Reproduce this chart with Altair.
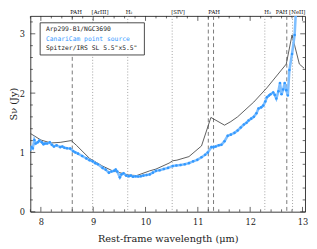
import altair as alt
import pandas as pd

# ---- data ----
spitzer_wl = [7.80, 8.00, 8.19, 8.37, 8.58, 8.68, 8.93, 9.18, 9.37, 9.68, 9.83, 10.08, 10.20,
              10.45, 10.52, 10.60, 10.83, 11.07, 11.25, 11.51, 11.63, 11.76, 12.07, 12.32,
              12.69, 12.80, 12.94, 13.03]
spitzer_flux = [1.32, 1.21, 1.16, 1.17, 1.20, 1.12, 0.90, 0.77, 0.69, 0.62, 0.61, 0.69, 0.72,
                0.82, 0.86, 0.87, 0.93, 1.11, 1.59, 1.46, 1.52, 1.60, 1.85, 2.09,
                2.49, 2.98, 2.49, 2.42]

canari_wl = [7.795, 7.82, 7.845, 7.875, 7.90, 7.94, 7.97, 8.02, 8.05, 8.08, 8.12, 8.17, 8.21,
             8.25, 8.30, 8.37, 8.41, 8.45, 8.50, 8.56, 8.62, 8.66, 8.71, 8.79, 8.87, 8.93,
             8.99, 9.04, 9.09, 9.18, 9.24, 9.30, 9.35, 9.40, 9.43, 9.46, 9.51, 9.54, 9.58,
             9.63, 9.68, 9.72, 9.76, 9.81, 9.86, 9.91, 9.96, 10.02, 10.08, 10.14, 10.20,
             10.27, 10.35, 10.43, 10.52, 10.59, 10.67, 10.75, 10.83, 10.91, 10.99, 11.07,
             11.14, 11.19, 11.26, 11.30, 11.34, 11.40, 11.45, 11.51, 11.57, 11.63, 11.70,
             11.76, 11.82, 11.88, 11.93, 11.97, 12.02, 12.07, 12.12, 12.16, 12.21, 12.25,
             12.29, 12.32, 12.36, 12.39, 12.44, 12.47, 12.50, 12.54, 12.57, 12.60, 12.63,
             12.66, 12.69, 12.72, 12.75, 12.80, 12.85, 12.87, 12.89]
canari_flux = [1.04, 1.09, 1.07, 1.21, 1.15, 1.17, 1.20, 1.17, 1.14, 1.15, 1.15, 1.17, 1.13,
               1.10, 1.12, 1.09, 1.10, 1.08, 1.07, 1.065, 1.02, 1.00, 0.98, 0.94, 0.90, 0.87,
               0.85, 0.82, 0.80, 0.74, 0.71, 0.66, 0.68, 0.69, 0.71, 0.68, 0.58, 0.63, 0.65,
               0.61, 0.60, 0.61, 0.59, 0.60, 0.595, 0.60, 0.61, 0.62, 0.63, 0.66, 0.69,
               0.70, 0.72, 0.74, 0.77, 0.78, 0.79, 0.80, 0.82, 0.85, 0.875, 0.92,
               0.96, 1.00, 1.09, 1.09, 1.10, 1.12, 1.13, 1.19, 1.28, 1.30, 1.33,
               1.37, 1.42, 1.47, 1.50, 1.54, 1.57, 1.60, 1.66, 1.74, 1.76, 1.79,
               1.86, 1.93, 1.96, 1.98, 2.01, 1.97, 1.91, 2.03, 2.17, 1.98, 2.06,
               2.17, 2.05, 1.96, 2.39, 2.66, 2.98, 3.31, 3.47]

line_wl = [8.60, 8.99, 9.66, 10.51, 11.20, 11.30, 12.28, 12.70, 12.81]
line_kind = ["PAH", "ion", "H2", "ion", "PAH", "PAH", "H2", "PAH", "ion"]

label_text = ["PAH", "[ArIII]", "H\u2082", "[SIV]", "PAH", "H\u2082", "PAH [NeII]"]
label_wl = [8.56, 8.97, 9.62, 10.49, 11.20, 12.27, 12.49]

x_major = [8, 9, 10, 11, 12, 13]
x_minor = [7.8, 8.2, 8.4, 8.6, 8.8, 9.2, 9.4, 9.6, 9.8, 10.2, 10.4, 10.6, 10.8,
           11.2, 11.4, 11.6, 11.8, 12.2, 12.4, 12.6, 12.8]
y_major = [0, 1, 2, 3]
y_minor = [0.2, 0.4, 0.6, 0.8, 1.2, 1.4, 1.6, 1.8, 2.2, 2.4, 2.6, 2.8, 3.2]

legend_lines = ["Arp299-B1/NGC3690", "CanariCam point source", "Spitzer/IRS SL 5.5\"x5.5\""]
legend_colors = ["#222222", "#3399ff", "#222222"]

W, H = 282, 201
XDOM = [7.8, 13.05]
YDOM = [0, 3.3]
SERIF = "DejaVu Serif"

xs = alt.Scale(domain=XDOM, nice=False, zero=False)
ys = alt.Scale(domain=YDOM, nice=False, zero=False)

spitzer = pd.DataFrame({"wl": spitzer_wl, "flux": spitzer_flux})
canari = pd.DataFrame({"wl": canari_wl, "flux": canari_flux})
lines = pd.DataFrame({"wl": line_wl, "kind": line_kind})
labels = pd.DataFrame({"wl": label_wl, "text": label_text})

xaxis = alt.Axis(values=x_major, format="d", ticks=False, grid=False, domain=False,
                 labelFlush=False,
                 labelFont=SERIF, labelFontSize=8.5, labelColor="#222", labelPadding=6,
                 title="Rest-frame wavelength (\u03bcm)", titleFont=SERIF, titleFontSize=10,
                 titleFontWeight="normal", titleColor="#222", titlePadding=8)
yaxis = alt.Axis(values=y_major, format="d", ticks=False, grid=False, domain=False,
                 labelFlush=False,
                 labelFont=SERIF, labelFontSize=8.5, labelColor="#222", labelPadding=6,
                 title="S\u03bd (Jy)", titleFont=SERIF, titleFontSize=10,
                 titleFontWeight="normal", titleColor="#222", titleAngle=270,
                 titleX=-17, titleY=90, titleBaseline="middle", titleAlign="center")

base_axes = alt.Chart(spitzer).mark_line(opacity=0).encode(
    x=alt.X("wl:Q", scale=xs, axis=xaxis),
    y=alt.Y("flux:Q", scale=ys, axis=yaxis),
)

vdash = alt.Chart(lines[lines.kind == "PAH"]).mark_rule(
    color="#555", strokeWidth=0.8, strokeDash=[4, 3]).encode(x=alt.X("wl:Q", scale=xs))
vdot = alt.Chart(lines[lines.kind != "PAH"]).mark_rule(
    color="#888", strokeWidth=0.8, strokeDash=[1, 2]).encode(x=alt.X("wl:Q", scale=xs))

spitz_line = alt.Chart(spitzer).mark_line(color="#333", strokeWidth=0.8, clip=True).encode(
    x=alt.X("wl:Q", scale=xs), y=alt.Y("flux:Q", scale=ys))

canari_line = alt.Chart(canari).mark_line(color="#7fbfff", strokeWidth=2.6, clip=True).encode(
    x=alt.X("wl:Q", scale=xs), y=alt.Y("flux:Q", scale=ys))
canari_pts = alt.Chart(canari).mark_point(color="#3399ff", filled=True, size=7, opacity=1,
                                          clip=True).encode(
    x=alt.X("wl:Q", scale=xs), y=alt.Y("flux:Q", scale=ys))

top_labels = alt.Chart(labels).mark_text(font=SERIF, fontSize=5.5, align="left",
                                         baseline="bottom", color="#111", dy=-1).encode(
    x=alt.X("wl:Q", scale=xs), y=alt.value(0), text="text:N")

# inward ticks on all four sides
xmaj = pd.DataFrame({"v": x_major})
xmin = pd.DataFrame({"v": x_minor})
ymaj = pd.DataFrame({"v": y_major})
ymin = pd.DataFrame({"v": y_minor})
tk = dict(color="#222", strokeWidth=0.7)
ticks = [
    alt.Chart(xmaj).mark_rule(**tk).encode(x=alt.X("v:Q", scale=xs), y=alt.value(H), y2=alt.value(H - 5)),
    alt.Chart(xmaj).mark_rule(**tk).encode(x=alt.X("v:Q", scale=xs), y=alt.value(0), y2=alt.value(5)),
    alt.Chart(xmin).mark_rule(**tk).encode(x=alt.X("v:Q", scale=xs), y=alt.value(H), y2=alt.value(H - 2.5)),
    alt.Chart(xmin).mark_rule(**tk).encode(x=alt.X("v:Q", scale=xs), y=alt.value(0), y2=alt.value(2.5)),
    alt.Chart(ymaj).mark_rule(**tk).encode(y=alt.Y("v:Q", scale=ys), x=alt.value(0), x2=alt.value(5)),
    alt.Chart(ymaj).mark_rule(**tk).encode(y=alt.Y("v:Q", scale=ys), x=alt.value(W), x2=alt.value(W - 5)),
    alt.Chart(ymin).mark_rule(**tk).encode(y=alt.Y("v:Q", scale=ys), x=alt.value(0), x2=alt.value(2.5)),
    alt.Chart(ymin).mark_rule(**tk).encode(y=alt.Y("v:Q", scale=ys), x=alt.value(W), x2=alt.value(W - 2.5)),
]

legend_box = alt.Chart(pd.DataFrame({"a": [0]})).mark_rect(
    fill="white", stroke="#333", strokeWidth=0.9).encode(
    x=alt.value(10), x2=alt.value(117), y=alt.value(7), y2=alt.value(40))
legend_rows_y = [13, 23.5, 33]
legend_texts = [
    alt.Chart(pd.DataFrame({"t": [txt]})).mark_text(
        font="DejaVu Sans Mono", fontSize=6.5, align="left", baseline="middle", color=col
    ).encode(x=alt.value(16), y=alt.value(yy), text="t:N")
    for txt, col, yy in zip(legend_lines, legend_colors, legend_rows_y)
]

chart = alt.layer(
    base_axes, vdash, vdot, spitz_line, canari_line, canari_pts, *ticks,
    legend_box, *legend_texts, top_labels,
).properties(
    width=W, height=H,
    autosize=alt.AutoSizeParams(type="none"),
    padding={"left": 23, "top": 5, "right": 4, "bottom": 35},
).configure_view(stroke="#222", strokeWidth=0.9)

chart.save("out.html", embed_options={"renderer": "svg", "actions": False})
